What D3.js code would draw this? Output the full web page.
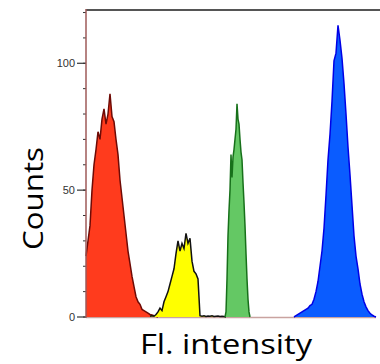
<!DOCTYPE html>
<html>
<head>
<meta charset="utf-8">
<script src="https://cdn.jsdelivr.net/npm/d3@7"></script>
<style>
  body { margin: 0; background: #fff; }
</style>
</head>
<body>
<div id="my_dataviz"></div>
<script>
// histogram counts, one array per population (bins start at *Start, step *Step)
var redStart = 0, redStep = 2;
var redCounts = [24, 30, 36, 50, 60, 66, 73, 70, 78, 82, 76, 80, 88, 79, 77, 70, 64, 54,
    47, 40, 33, 26, 21, 16, 12, 8, 6, 5, 3, 2.5, 2, 1.5, 1, 0.8, 0.5, 0.3, 0];

var yellowStart = 64, yellowStep = 2;
var yellowCounts = [0.3, 0.5, 0.3, 1, 2, 3.5, 2.5, 6, 8, 10, 13, 16, 19, 25, 30, 26, 29, 27,
    33, 29, 31, 22, 18, 17, 15, 0.5, 0.3, 0.5, 0.2, 0.4, 0.3, 0.5, 0.2, 0.3, 0.4, 0.2, 0.3, 0.2, 0];

var greenStart = 139, greenStep = 1;
var greenCounts = [0, 2, 15, 32, 42, 50, 64, 55, 63, 66, 70, 74, 84, 78, 76, 70, 65, 62,
    53, 45, 36, 25, 15, 7, 2, 0];

var blueStart = 208, blueStep = 2;
var blueCounts = [0, 0.5, 1, 1.5, 2, 2.5, 3, 3.5, 4.5, 5, 7, 10, 14, 20, 26, 35, 48, 62,
    72, 85, 101, 104, 115, 109, 102, 92, 80, 67, 56, 44, 32, 24, 19, 13, 9, 6, 4, 2.5,
    1.5, 0.8, 0.3, 0];

var yTicks = [0, 50, 100];

var width = 380, height = 364;

var svg = d3.select("#my_dataviz")
    .append("svg")
    .attr("width", width)
    .attr("height", height);

var x = d3.scaleLinear()
    .domain([0, 292])
    .range([86, 378]);

var y = d3.scaleLinear()
    .domain([0, 121])
    .range([317, 10]);

function toBins(start, step, counts) {
    return counts.map(function(c, i) { return { ch: start + i * step, n: c } });
}

var area = d3.area()
    .x(function(d) { return x(d.ch) })
    .y0(y(0))
    .y1(function(d) { return y(d.n) });

var line = d3.line()
    .x(function(d) { return x(d.ch) })
    .y(function(d) { return y(d.n) });

var peaks = [
    { bins: toBins(redStart, redStep, redCounts), fill: "#ff3b1d", stroke: "#6e0a05" },
    { bins: toBins(yellowStart, yellowStep, yellowCounts), fill: "#ffff00", stroke: "#111" },
    { bins: toBins(greenStart, greenStep, greenCounts), fill: "#64c864", stroke: "#17701a" },
    { bins: toBins(blueStart, blueStep, blueCounts), fill: "#0a5cff", stroke: "#0000e6" }
];

// bottom axis line
svg.append("line")
    .attr("x1", x(0))
    .attr("x2", x(290))
    .attr("y1", y(0) + 0.5)
    .attr("y2", y(0) + 0.5)
    .attr("stroke", "#c9a3a0")
    .attr("stroke-width", 1.5);

peaks.forEach(function(p) {
    svg.append("path")
        .datum(p.bins)
        .attr("d", area)
        .attr("fill", p.fill);
    svg.append("path")
        .datum(p.bins)
        .attr("d", line)
        .attr("fill", "none")
        .attr("stroke", p.stroke)
        .attr("stroke-width", 1.5);
});

// top frame line
svg.append("line")
    .attr("x1", x(0))
    .attr("x2", width)
    .attr("y1", 10)
    .attr("y2", 10)
    .attr("stroke", "#555")
    .attr("stroke-width", 2);

// y axis
var yAxis = svg.append("g")
    .attr("transform", "translate(" + x(0) + ",0)");

yAxis.selectAll(".minor")
    .data(d3.range(0, 121, 10))
    .enter()
    .append("line")
    .attr("x1", -3)
    .attr("x2", 0)
    .attr("y1", function(d) { return y(d) })
    .attr("y2", function(d) { return y(d) })
    .attr("stroke", "#333")
    .attr("stroke-width", 1);

yAxis.selectAll(".major")
    .data(yTicks)
    .enter()
    .append("line")
    .attr("x1", -9)
    .attr("x2", 0)
    .attr("y1", function(d) { return y(d) })
    .attr("y2", function(d) { return y(d) })
    .attr("stroke", "#333")
    .attr("stroke-width", 1.2);

yAxis.selectAll("text")
    .data(yTicks)
    .enter()
    .append("text")
    .attr("x", -11)
    .attr("y", function(d) { return y(d) + 4 })
    .attr("text-anchor", "end")
    .attr("font-family", "Liberation Sans, Arial, sans-serif")
    .attr("font-size", "11px")
    .attr("fill", "#333")
    .text(function(d) { return d });

yAxis.append("line")
    .attr("x1", 0)
    .attr("x2", 0)
    .attr("y1", 9)
    .attr("y2", y(0) + 1)
    .attr("stroke", "#9e5a58")
    .attr("stroke-width", 1.5);

// axis titles
svg.append("text")
    .attr("x", 140)
    .attr("y", 354)
    .attr("textLength", 172)
    .attr("lengthAdjust", "spacingAndGlyphs")
    .attr("font-family", "Open Sans, sans-serif")
    .attr("font-size", "27px")
    .attr("fill", "#000")
    .text("Fl. intensity");

svg.append("text")
    .attr("transform", "translate(43,250) rotate(-90)")
    .attr("textLength", 103)
    .attr("lengthAdjust", "spacingAndGlyphs")
    .attr("font-family", "Open Sans, sans-serif")
    .attr("font-size", "27px")
    .attr("fill", "#000")
    .text("Counts");
</script>
</body>
</html>
